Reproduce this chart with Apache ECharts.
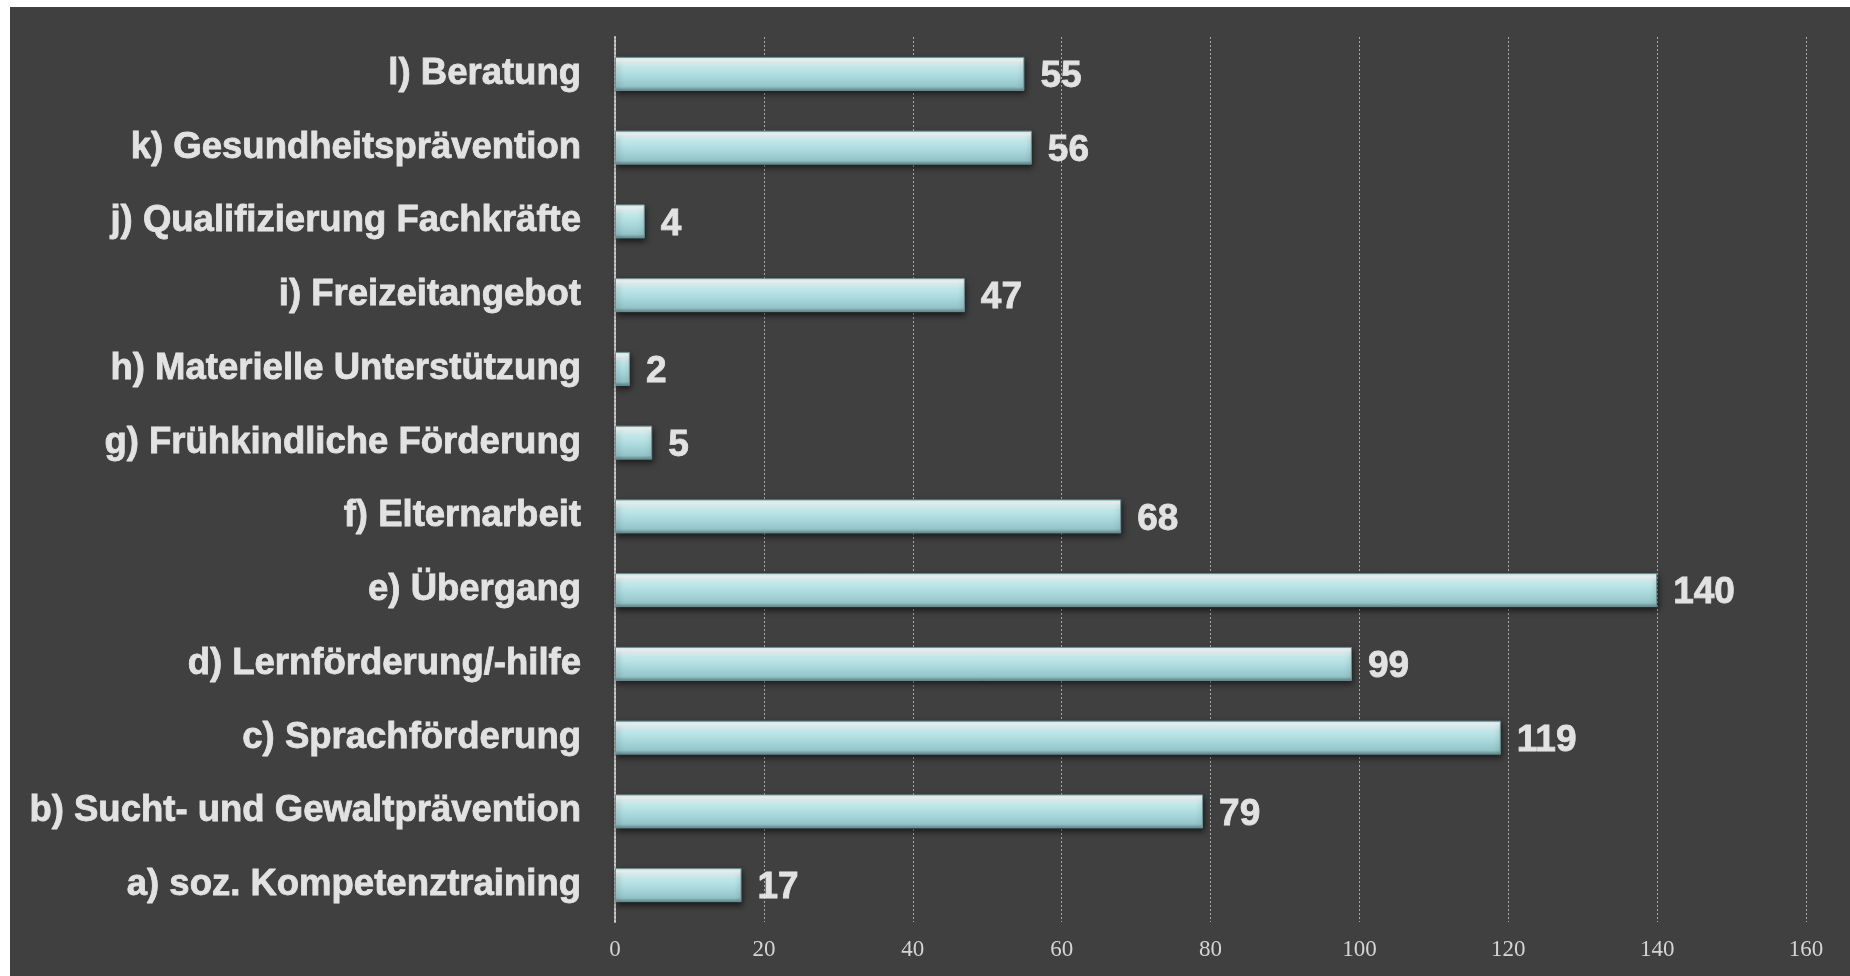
<!DOCTYPE html>
<html>
<head>
<meta charset="utf-8">
<script src="https://cdn.jsdelivr.net/npm/echarts@6/dist/echarts.min.js"></script>
<style>
html,body{margin:0;padding:0;background:#ffffff;}
#chart{width:1850px;height:976px;}
</style>
</head>
<body>
<div id="chart"></div>
<script>
const categories = [
  "a) soz. Kompetenztraining",
  "b) Sucht- und Gewaltprävention",
  "c) Sprachförderung",
  "d) Lernförderung/-hilfe",
  "e) Übergang",
  "f) Elternarbeit",
  "g) Frühkindliche Förderung",
  "h) Materielle Unterstützung",
  "i) Freizeitangebot",
  "j) Qualifizierung Fachkräfte",
  "k) Gesundheitsprävention",
  "l) Beratung"
];
const values = [17, 79, 119, 99, 140, 68, 5, 2, 47, 4, 56, 55];
const axisMin = 0, axisMax = 160, axisStep = 20;

const chart = echarts.init(document.getElementById('chart'), null, {renderer: 'canvas'});
const option = {
  backgroundColor: '#ffffff',
  animation: false,
  graphic: [{
    type: 'rect', z: -10, silent: true,
    shape: {x: 10, y: 7, width: 1840, height: 969},
    style: {fill: '#404040'}
  }],
  grid: {left: 615, right: 44, top: 37, bottom: 54, containLabel: false},
  xAxis: {
    type: 'value', min: axisMin, max: axisMax, interval: axisStep,
    axisLine: {show: false},
    axisTick: {show: false},
    axisLabel: {color: '#d4d4d4', fontFamily: 'Liberation Serif', fontSize: 23, margin: 16},
    splitLine: {show: true, lineStyle: {color: '#a8a8a8', width: 1, type: [2, 2]}}
  },
  yAxis: {
    type: 'category', data: categories,
    axisLine: {show: true, lineStyle: {color: '#c8c8c8', width: 2, type: [2, 2]}},
    axisTick: {show: false},
    axisLabel: {color: '#e2e2e2', fontFamily: 'Liberation Sans', fontWeight: 'bold', fontSize: 36.5,
      margin: 34, textBorderColor: '#e2e2e2', textBorderWidth: 0.8}
  },
  series: [{
    type: 'bar', data: values, barWidth: 34,
    itemStyle: {
      color: new echarts.graphic.LinearGradient(0, 0, 0, 1, [
        {offset: 0, color: '#d8f6f6'},
        {offset: 0.1, color: '#f8ffff'},
        {offset: 0.3, color: '#c2e8ea'},
        {offset: 0.6, color: '#a8d8dc'},
        {offset: 0.88, color: '#94c4c8'},
        {offset: 1, color: '#5d868a'}
      ]),
      borderColor: '#6c9296', borderWidth: 1,
      shadowColor: 'rgba(0,0,0,0.6)', shadowBlur: 6, shadowOffsetY: 3, shadowOffsetX: 1
    },
    label: {
      show: true, position: 'right', distance: 16,
      color: '#e2e2e2', fontFamily: 'Liberation Sans', fontWeight: 'bold', fontSize: 37,
      textBorderColor: '#e2e2e2', textBorderWidth: 0.8,
      offset: [0, 3]
    }
  }]
};
chart.setOption(option);
</script>
</body>
</html>
